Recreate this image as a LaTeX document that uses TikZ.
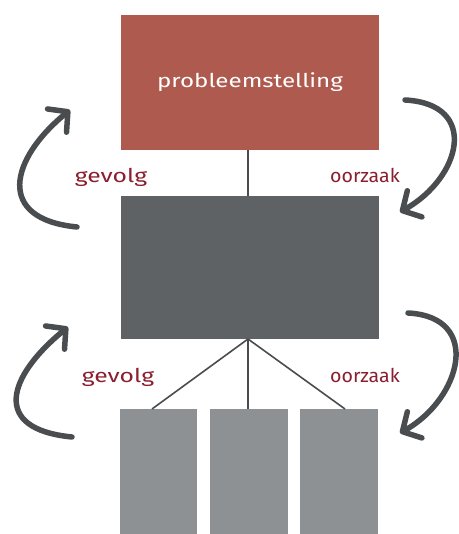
\documentclass[tikz,border=0pt]{standalone}
\usepackage{fontspec}
\setmainfont{Fira Sans}
\usetikzlibrary{arrows.meta,calc}
\definecolor{topred}{HTML}{AE5A4E}
\definecolor{midgray}{HTML}{5E6265}
\definecolor{lowgray}{HTML}{8E9194}
\definecolor{arrowgray}{HTML}{4A4D50}
\definecolor{labelred}{HTML}{8A1F30}
\begin{document}
\begin{tikzpicture}[x=1pt,y=1pt,
  box/.style={draw=none,inner sep=0pt,anchor=south west},
  link/.style={draw=arrowgray,line width=1.6pt},
  cycle/.style={draw=arrowgray,line width=5.5pt,line cap=round,
    -{Straight Barb[length=14pt,width=30pt,line cap=round,line join=round]}},
  lbl/.style={text=labelred,font=\fontsize{19}{19}\selectfont}]
\useasboundingbox (0,0) rectangle (458,534);
\fill[white] (0,0) rectangle (458,534);
% boxes
\node[box,fill=topred,minimum width=258pt,minimum height=135pt] (top) at (121,384) {};
\node[box,fill=midgray,minimum width=258pt,minimum height=143pt] (mid) at (121,195) {};
\node[box,fill=lowgray,minimum width=77pt,minimum height=125pt] (b1) at (120,0) {};
\node[box,fill=lowgray,minimum width=78pt,minimum height=125pt] (b2) at (210,0) {};
\node[box,fill=lowgray,minimum width=78pt,minimum height=125pt] (b3) at (300,0) {};
\node[text=white,font=\fontsize{19}{19}\selectfont] (ttl) at (250,452) {\scalebox{1.27}[1]{probleemstelling}};
% connector ends
\coordinate (tb) at (248,384);
\coordinate (mt) at (248,338);
\coordinate (mb) at (248,195);
\coordinate (e1) at (152,125);
\coordinate (e2) at (248,125);
\coordinate (e3) at (345,125);
\draw[link] (tb) -- (mt);
\draw[link] (mb) -- (e1);
\draw[link] (mb) -- (e2);
\draw[link] (mb) -- (e3);
% labels
\node[lbl] (g1) at (111,357) {\scalebox{1.3}[1]{gevolg}};
\node[lbl] (o1) at (365,359) {\scalebox{1.03}[1]{oorzaak}};
\node[lbl] (g2) at (118,157) {\scalebox{1.3}[1]{gevolg}};
\node[lbl] (o2) at (365,159) {\scalebox{1.03}[1]{oorzaak}};
% cycle arrows
\coordinate (a1s) at (77,307);
\coordinate (a1e) at (70,424);
\coordinate (a2s) at (405,434);
\coordinate (a2e) at (400,322);
\coordinate (a3s) at (72,97);
\coordinate (a3e) at (68,207);
\coordinate (a4s) at (408,221);
\coordinate (a4e) at (400,101);
\draw[cycle] (a1s) .. controls (-5,315) and (10,375) .. (a1e);
\draw[cycle] (a2s) .. controls (480,430) and (461,356) .. (a2e);
\draw[cycle] (a3s) .. controls (-10,105) and (8,158) .. (a3e);
\draw[cycle] (a4s) .. controls (483,217) and (461,135) .. (a4e);
\end{tikzpicture}
\end{document}
